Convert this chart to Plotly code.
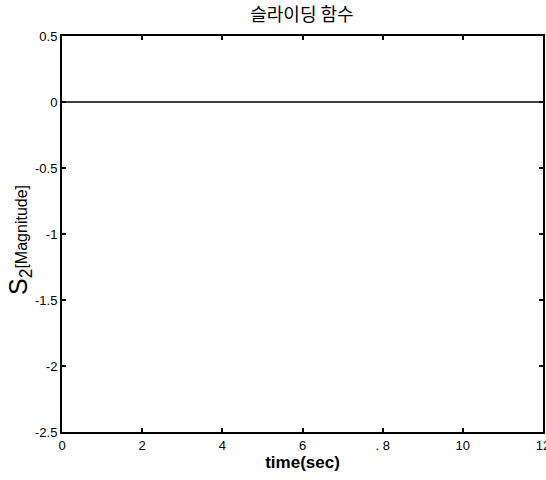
import plotly.graph_objects as go

time_sec = [0, 2, 4, 6, 8, 10, 12]
s2_values = [0, 0, 0, 0, 0, 0, 0]
x_ticks = [0, 2, 4, 6, 8, 10, 12]
x_tick_labels = ["0", "2", "4", "6", ". 8", "10", "12"]
y_ticks = [0.5, 0, -0.5, -1, -1.5, -2, -2.5]
y_tick_labels = ["0.5", "0", "-0.5", "-1", "-1.5", "-2", "-2.5"]

fig = go.Figure()
fig.add_trace(go.Scatter(x=time_sec, y=s2_values, mode="lines",
                         line=dict(color="black", width=1.5), showlegend=False))

axis_common = dict(showline=True, linecolor="black", linewidth=2, mirror="ticks",
                   ticks="inside", ticklen=4, tickcolor="black", tickwidth=1.5,
                   showgrid=False, zeroline=False, automargin=False,
                   ticklabeloverflow="allow",
                   tickfont=dict(family="Liberation Sans, Arial", size=13, color="black"))

fig.update_layout(
    width=546, height=480,
    margin=dict(l=62, r=3, t=36, b=48, autoexpand=False),
    paper_bgcolor="white", plot_bgcolor="white",
    title=dict(text="슬라이딩 함수", x=0.553, xanchor="center", y=0.969, yanchor="middle",
               font=dict(family="Noto Sans CJK KR", size=18, color="black")),
    xaxis=dict(range=[0, 12], tickvals=x_ticks, ticktext=x_tick_labels,
               title=dict(text="<b>time(sec)</b>", standoff=2,
                          font=dict(family="Liberation Sans, Arial", size=17, color="black")),
               **axis_common),
    yaxis=dict(range=[-2.5, 0.5], tickvals=y_ticks, ticktext=y_tick_labels, **axis_common),
)

fig.add_annotation(
    text="S<sub>2</sub><span style='font-size:16px'>[Magnitude]</span>",
    xref="paper", yref="paper", x=0, y=0.5, xanchor="right", yanchor="middle",
    xshift=-24, yshift=-6, textangle=-90, showarrow=False,
    font=dict(family="Liberation Sans, Arial", size=25, color="black"),
)

fig.write_html(
    "out.html",
    config={"displayModeBar": False},
    post_script="document.body.style.margin='0';document.body.style.overflow='hidden';",
)
